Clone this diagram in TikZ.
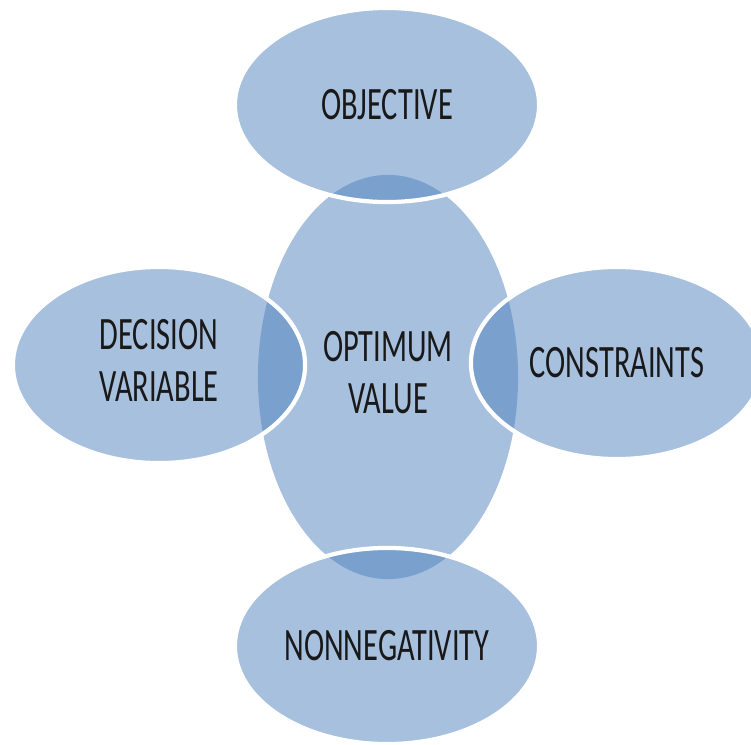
\documentclass[tikz,border=0pt]{standalone}
\usepackage{fontspec}
\usepackage{graphicx}
\setmainfont{Carlito}
\usetikzlibrary{shapes.geometric}
\definecolor{bubbleblue}{RGB}{79,129,189}
\begin{document}
\begin{tikzpicture}[x=0.01cm,y=-0.01cm]
    \newcommand{\narrow}{.655} % horizontal squeeze of the labels
    \newcommand{\rim}{1.2pt} % width of the white rims

    % set the style of the bubbles
    \tikzset{
        bubble/.style={
            ellipse,
            inner sep=0pt,
            fill=bubbleblue,
            fill opacity=0.5,
            text opacity=1,
            text=black!90,
            font=\fontsize{13.2}{15}\selectfont
            },
        outer/.style={
            bubble,
            draw=white,
            line width=\rim
            }
    }

    \useasboundingbox (0,0) rectangle (751,745);
    \clip (0,0) rectangle (751,745);

    % centre
    \node[bubble, minimum width=2.60cm, minimum height=4.04cm] (optimum) at (388,377)
        {\scalebox{\narrow}[1]{\begin{tabular}{@{}c@{}}OPTIMUM\\VALUE\end{tabular}}};

    % around it
    \node[outer, minimum width=3.04cm, minimum height=1.94cm] (objective) at (387,105)
        {\scalebox{\narrow}[1]{OBJECTIVE}};
    \node[outer, minimum width=2.92cm, minimum height=1.96cm] (decision) at (159,365)
        {\scalebox{\narrow}[1]{\begin{tabular}{@{}c@{}}DECISION\\VARIABLE\end{tabular}}};
    \node[outer, minimum width=2.92cm, minimum height=1.92cm] (constraints) at (617,363)
        {\scalebox{\narrow}[1]{CONSTRAINTS}};
    \node[outer, minimum width=3.04cm, minimum height=1.96cm] (nonneg) at (387,646)
        {\scalebox{\narrow}[1]{NONNEGATIVITY}};
\end{tikzpicture}
\end{document}
